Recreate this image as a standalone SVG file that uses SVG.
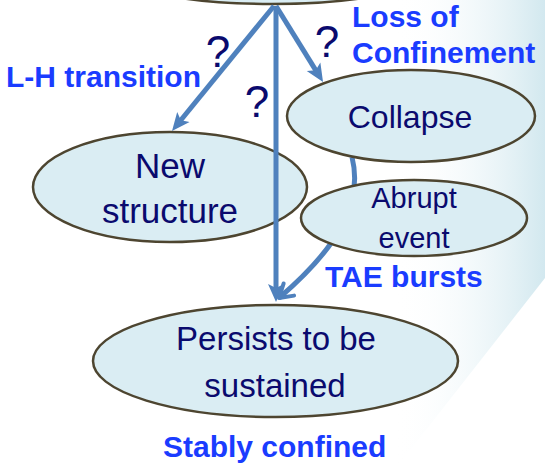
<svg xmlns="http://www.w3.org/2000/svg" width="545" height="463" viewBox="0 0 545 463">
<defs>
<linearGradient id="bg" gradientUnits="userSpaceOnUse" x1="395" y1="0" x2="545" y2="0">
<stop offset="0" stop-color="#ffffff" stop-opacity="0"/>
<stop offset="1" stop-color="#d2e8ef"/>
</linearGradient>
<marker id="head" markerUnits="userSpaceOnUse" viewBox="0 0 18 18" markerWidth="18" markerHeight="18" refX="9" refY="9" orient="auto">
<path d="M0,1 L18,9 L0,17 L4,9 z" fill="#4f81bd"/>
</marker>
<marker id="open" markerUnits="userSpaceOnUse" viewBox="0 0 22 22" markerWidth="22" markerHeight="22" refX="18" refY="11" orient="auto">
<path d="M5,3 L18,11 L5,19" fill="none" stroke="#4f81bd" stroke-width="4" stroke-linecap="round" stroke-linejoin="round"/>
</marker>
</defs>
<style>
.node ellipse{fill:#daedf3;stroke:#4d4530;stroke-width:2.5}
.nt{font-family:"Liberation Sans",Arial,sans-serif;fill:#0a0a6e;text-anchor:middle}
.lbl{font-family:"Liberation Sans",Arial,sans-serif;font-weight:bold;font-size:30px;fill:#1a3cff}
.q{font-family:"Liberation Sans",Arial,sans-serif;font-size:44px;fill:#0a0a6e;text-anchor:middle}
.conn{stroke:#4f81bd;stroke-width:5;fill:none}
</style>
<polygon points="390,0 545,0 545,278 400,463 390,463" fill="url(#bg)"/>
<g id="node-top" class="node">
<ellipse cx="272" cy="-21" rx="140" ry="25"/>
</g>
<g id="node-new" class="node">
<ellipse cx="170" cy="187" rx="137" ry="55"/>
<text class="nt" font-size="35" x="170" y="178">New</text>
<text class="nt" font-size="35" x="170" y="223">structure</text>
</g>
<g id="connectors">
<line class="conn" x1="274" y1="6" x2="177.7" y2="124" marker-end="url(#head)"/>
<line class="conn" x1="276" y1="6" x2="318.3" y2="74.4" marker-end="url(#head)"/>
<line class="conn" x1="276" y1="6" x2="276" y2="293" marker-end="url(#head)"/>
<path class="conn" d="M352,157 C364,205 335,250 279,298" marker-end="url(#open)"/>
</g>
<g id="node-collapse" class="node">
<ellipse cx="411" cy="116" rx="124" ry="46"/>
<text class="nt" font-size="32" x="410" y="128">Collapse</text>
</g>
<g id="node-abrupt" class="node">
<ellipse cx="414" cy="218" rx="113" ry="38"/>
<text class="nt" font-size="29" x="414" y="208">Abrupt</text>
<text class="nt" font-size="29" x="414" y="248">event</text>
</g>
<g id="node-persists" class="node">
<ellipse cx="275.5" cy="361" rx="182.5" ry="56"/>
<text class="nt" font-size="33" x="276" y="350">Persists to be</text>
<text class="nt" font-size="33" x="275" y="397">sustained</text>
</g>
<g id="labels">
<text class="lbl" x="6" y="87">L-H transition</text>
<text class="lbl" x="352" y="27">Loss of</text>
<text class="lbl" x="352" y="63">Confinement</text>
<text class="lbl" x="325" y="287">TAE bursts</text>
<text class="lbl" x="163" y="457">Stably confined</text>
<text class="q" x="218" y="67">?</text>
<text class="q" x="257" y="117">?</text>
<text class="q" x="327" y="57">?</text>
</g>
</svg>
